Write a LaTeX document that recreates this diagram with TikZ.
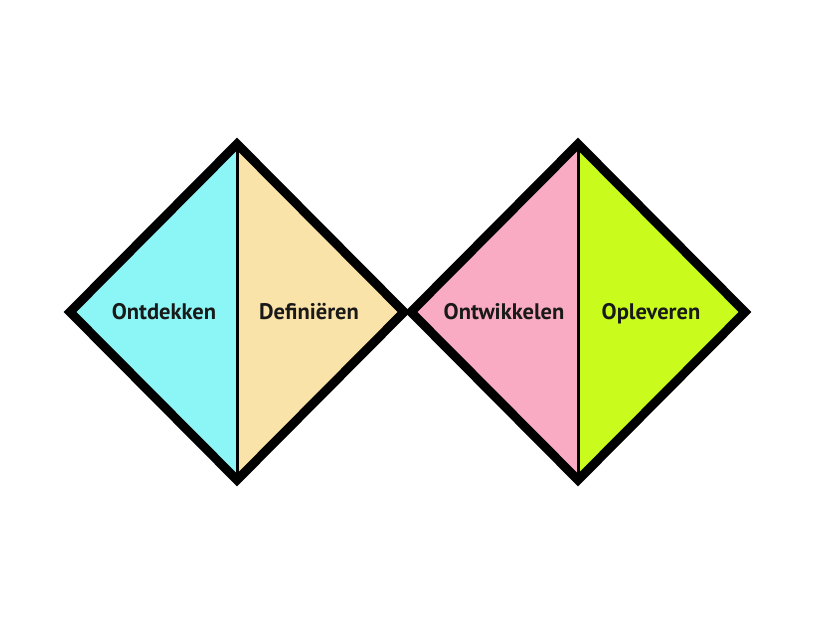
\documentclass[tikz,border=0pt]{standalone}
\usepackage{fontspec}
\setmainfont{PT Sans}
\definecolor{cyanf}{HTML}{8CF6F6}
\definecolor{beigef}{HTML}{FAE3A8}
\definecolor{pinkf}{HTML}{F8ABC3}
\definecolor{limef}{HTML}{C9FC1C}
\tikzset{
  outline/.style={draw=black, line width=9pt, line join=miter},
  divider/.style={draw=black, line width=3pt},
  lbl/.style={font=\bfseries\fontsize{22.5}{26}\selectfont, text=black!90, inner sep=0pt, anchor=base}
}
\begin{document}
\begin{tikzpicture}[x=1pt,y=-1pt]
\useasboundingbox (0,0) rectangle (830,623);
% left diamond
\coordinate (LT) at (237,144);
\coordinate (LB) at (237,480);
\coordinate (LL) at (70,312);
\coordinate (LR) at (404,312);
\fill[cyanf] (LT) -- (LL) -- (LB) -- cycle;
\fill[beigef] (LT) -- (LR) -- (LB) -- cycle;
\draw[divider] (LT) -- (LB);
\draw[outline] (LT) -- (LR) -- (LB) -- (LL) -- cycle;
% right diamond
\coordinate (RT) at (578,144);
\coordinate (RB) at (578,480);
\coordinate (RL) at (411,312);
\coordinate (RR) at (745,312);
\fill[pinkf] (RT) -- (RL) -- (RB) -- cycle;
\fill[limef] (RT) -- (RR) -- (RB) -- cycle;
\draw[divider] (RT) -- (RB);
\draw[outline] (RT) -- (RR) -- (RB) -- (RL) -- cycle;
% labels
\node[lbl] (t1) at (164,319) {Ontdekken};
\node[lbl] (t2) at (309,319) {Definiëren};
\node[lbl] (t3) at (504,319) {Ontwikkelen};
\node[lbl] (t4) at (651,319) {Opleveren};
\end{tikzpicture}
\end{document}
